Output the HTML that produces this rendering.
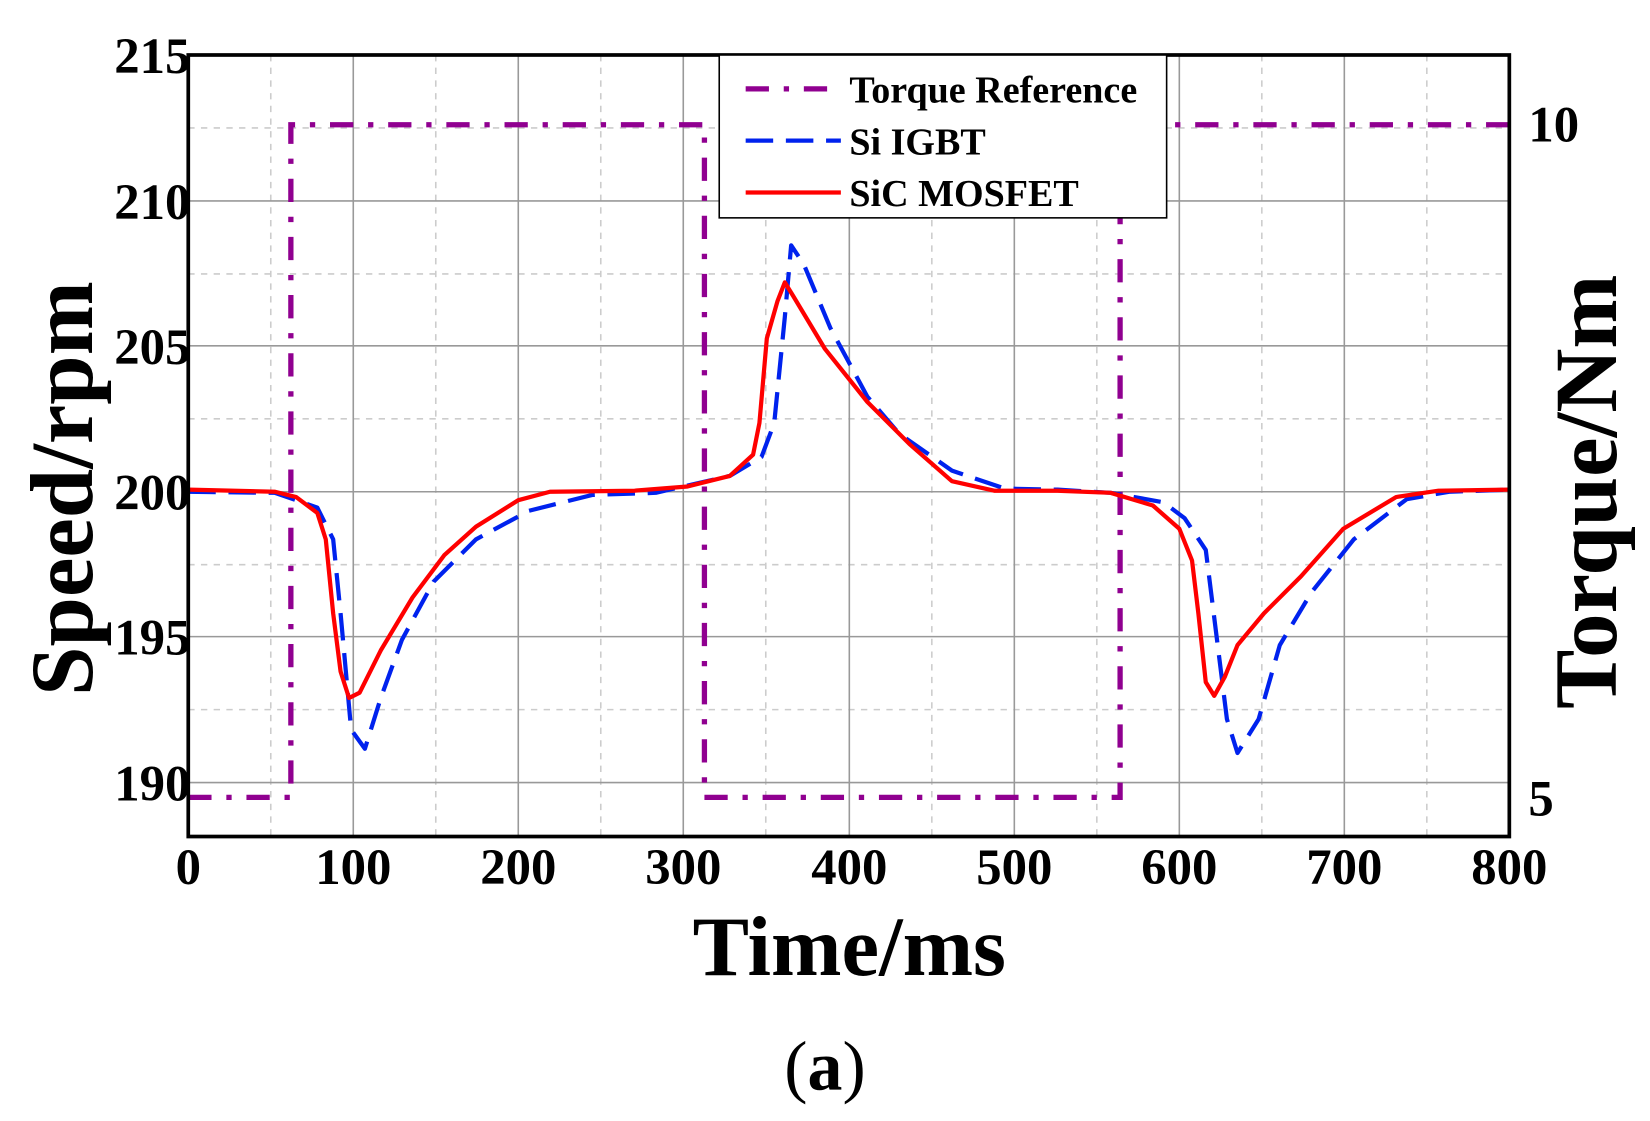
<!DOCTYPE html>
<html><head><meta charset="utf-8"><style>html,body{margin:0;padding:0;background:#fff}svg{display:block}</style></head>
<body>
<svg width="1650" height="1121" viewBox="0 0 1560 1060" preserveAspectRatio="none" xmlns="http://www.w3.org/2000/svg" font-family="Liberation Serif, serif" font-weight="bold">
<rect width="1560" height="1060" fill="#fff"/>
<g stroke="#ccc" stroke-width="1.5" stroke-dasharray="6,6">
<line x1="256" y1="52" x2="256" y2="791"/><line x1="412" y1="52" x2="412" y2="791"/><line x1="568" y1="52" x2="568" y2="791"/><line x1="724" y1="52" x2="724" y2="791"/><line x1="881" y1="52" x2="881" y2="791"/><line x1="1037" y1="52" x2="1037" y2="791"/><line x1="1193" y1="52" x2="1193" y2="791"/><line x1="1349" y1="52" x2="1349" y2="791"/>
<line x1="178" y1="121" x2="1427" y2="121"/><line x1="178" y1="259" x2="1427" y2="259"/><line x1="178" y1="396" x2="1427" y2="396"/><line x1="178" y1="534" x2="1427" y2="534"/><line x1="178" y1="671" x2="1427" y2="671"/>
</g>
<g stroke="#999" stroke-width="1.5">
<line x1="334" y1="52" x2="334" y2="791"/><line x1="490" y1="52" x2="490" y2="791"/><line x1="646" y1="52" x2="646" y2="791"/><line x1="803" y1="52" x2="803" y2="791"/><line x1="959" y1="52" x2="959" y2="791"/><line x1="1115" y1="52" x2="1115" y2="791"/><line x1="1271" y1="52" x2="1271" y2="791"/>
<line x1="178" y1="190" x2="1427" y2="190"/><line x1="178" y1="327" x2="1427" y2="327"/><line x1="178" y1="465" x2="1427" y2="465"/><line x1="178" y1="602" x2="1427" y2="602"/><line x1="178" y1="740" x2="1427" y2="740"/>
</g>
<polyline fill="none" stroke="#900090" stroke-width="5" stroke-dasharray="22,14,5,14" points="178,754 275,754 275,118 666,118 666,754 1059,754 1059,118 1427,118"/>
<polyline fill="none" stroke="#0022ee" stroke-width="4" stroke-dasharray="26,12" stroke-linejoin="round" points="178,465 260,466 300,480 315,510 322,580 332,690 345,708 360,660 380,605 410,550 450,510 500,483 560,468 620,466 690,450 720,432 732,400 742,300 748,232 760,250 785,310 820,375 850,410 900,445 950,462 1000,463 1050,466 1100,475 1120,490 1140,520 1150,600 1160,680 1170,712 1190,680 1210,610 1240,560 1280,510 1330,472 1370,465 1427,463"/>
<polyline fill="none" stroke="#ff0000" stroke-width="4" stroke-linejoin="round" points="178,463 260,465 280,470 300,485 308,510 315,580 322,635 330,660 340,655 360,615 390,565 420,525 450,498 490,473 520,465 600,464 650,460 690,450 712,430 718,400 725,320 735,285 742,267 750,280 780,330 820,380 860,420 900,455 940,464 1000,464 1050,466 1090,478 1115,500 1127,530 1133,580 1140,645 1148,658 1158,640 1170,610 1195,580 1230,545 1270,500 1320,470 1360,464 1427,463"/>
<rect x="178" y="52" width="1249" height="739" fill="none" stroke="#000" stroke-width="3.5"/>
<rect x="680" y="52" width="423" height="154" fill="#fff" stroke="#000" stroke-width="1.5"/>
<line x1="705" y1="84" x2="795" y2="84" stroke="#900090" stroke-width="5" stroke-dasharray="22,14,5,14"/>
<line x1="705" y1="133" x2="795" y2="133" stroke="#0022ee" stroke-width="4" stroke-dasharray="26,12"/>
<line x1="705" y1="182" x2="795" y2="182" stroke="#ff0000" stroke-width="4"/>
<g font-size="36" fill="#000"><text x="803" y="97">Torque Reference</text><text x="803" y="146">Si  IGBT</text><text x="803" y="195">SiC MOSFET</text></g>
<g font-size="48" fill="#000" text-anchor="end">
<text x="180" y="69">215</text><text x="180" y="207">210</text><text x="180" y="344">205</text><text x="180" y="482">200</text><text x="180" y="619">195</text><text x="180" y="757">190</text>
</g>
<g font-size="48" fill="#000"><text x="1445" y="134">10</text><text x="1445" y="771">5</text></g>
<g font-size="48" fill="#000" text-anchor="middle">
<text x="178" y="836">0</text><text x="334" y="836">100</text><text x="490" y="836">200</text><text x="646" y="836">300</text><text x="803" y="836">400</text><text x="959" y="836">500</text><text x="1115" y="836">600</text><text x="1271" y="836">700</text><text x="1427" y="836">800</text>
</g>
<text x="803" y="922" font-size="80" text-anchor="middle">Time/ms</text>
<text transform="translate(87,462) rotate(-90)" font-size="84" text-anchor="middle">Speed/rpm</text>
<text transform="translate(1528,465) rotate(-90)" font-size="84" text-anchor="middle">Torque/Nm</text>
<text x="780" y="1030" font-size="66" text-anchor="middle" font-weight="normal">(<tspan font-weight="bold">a</tspan>)</text>
</svg>
</body></html>
